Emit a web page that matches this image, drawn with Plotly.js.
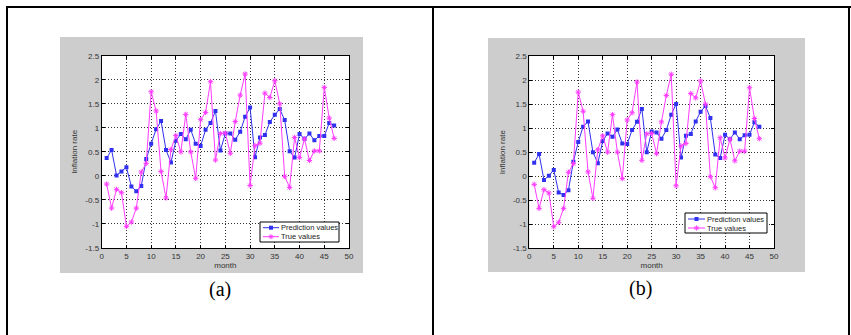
<!DOCTYPE html>
<html>
<head>
<meta charset="utf-8">
<script src="https://cdn.plot.ly/plotly-3.0.1.min.js"></script>
<style>html,body{margin:0;padding:0;background:#fff;}#chart{width:851px;height:335px;}</style>
</head>
<body>
<div id="chart"></div>
<script>
const months = [1,2,3,4,5,6,7,8,9,10,11,12,13,14,15,16,17,18,19,20,21,22,23,24,25,26,27,28,29,30,31,32,33,34,35,36,37,38,39,40,41,42,43,44,45,46,47];
const predictionA = [0.37,0.54,0.01,0.09,0.18,-0.22,-0.32,-0.21,0.35,0.67,0.97,1.14,0.54,0.28,0.73,0.87,0.76,0.96,0.67,0.62,0.96,1.10,1.35,0.53,0.88,0.88,0.75,0.92,1.23,1.42,0.39,0.80,0.85,1.12,1.27,1.39,1.16,0.51,0.38,0.87,0.77,0.88,0.74,0.83,0.83,1.10,1.05];
const predictionB = [0.28,0.46,-0.08,0.01,0.13,-0.34,-0.39,-0.29,0.30,0.71,1.03,1.14,0.50,0.27,0.73,0.89,0.82,0.97,0.68,0.67,0.96,1.13,1.40,0.50,0.93,0.91,0.78,0.96,1.28,1.50,0.39,0.84,0.88,1.14,1.34,1.46,1.21,0.45,0.38,0.86,0.77,0.91,0.77,0.85,0.86,1.12,1.03];
const trueValues = [-0.17,-0.67,-0.28,-0.35,-1.05,-0.96,-0.67,0.08,0.26,1.75,1.35,0.09,-0.46,0.55,0.84,0.50,1.28,0.50,-0.05,1.17,1.32,1.96,0.33,0.88,0.89,0.47,1.13,1.68,2.12,-0.20,0.63,0.68,1.72,1.63,1.98,1.50,-0.01,-0.24,0.80,0.38,0.77,0.32,0.52,0.52,1.84,1.20,0.78];
const xTickVals = [0,5,10,15,20,25,30,35,40,45,50];
const yTickVals = [-1.5,-1,-0.5,0,0.5,1,1.5,2,2.5];
const yTickText = ['-1.5','-1','-0.5','0','0.5','1','1.5','2','2.5'];
const seriesNames = ['Prediction values','True values'];
const panelLabels = ['(a)','(b)'];

const W = 851, H = 335;
const px = v => v / W;
const py = v => 1 - v / H;

const tickFont = {family: 'Liberation Sans, Arial, sans-serif', size: 8, color: '#333'};
function xAxis(d0, d1, anchor) {
  return {
    domain: [px(d0), px(d1)], anchor: anchor, range: [0, 50],
    tickvals: xTickVals, ticks: 'inside', ticklen: 3, tickcolor: '#000',
    showline: true, linecolor: '#000', linewidth: 1, mirror: 'allticks',
    showgrid: true, gridcolor: '#333', gridwidth: 1, griddash: '1px,2px',
    zeroline: false, tickfont: tickFont, fixedrange: true,
    title: {text: 'month', font: tickFont, standoff: 1}
  };
}
function yAxis(d0, d1, anchor) {
  return {
    domain: [py(d1), py(d0)], anchor: anchor, range: [-1.5, 2.5],
    tickvals: yTickVals, ticktext: yTickText, ticks: 'inside', ticklen: 3, tickcolor: '#000',
    showline: true, linecolor: '#000', linewidth: 1, mirror: 'allticks',
    showgrid: true, gridcolor: '#333', gridwidth: 1, griddash: '1px,2px',
    zeroline: false, tickfont: tickFont, fixedrange: true,
    title: {text: 'Inflation rate', font: tickFont, standoff: 6}
  };
}

const blue = '#3030f0', magenta = '#ff3cff';
function predTrace(y, xa, ya) {
  return {x: months, y: y, xaxis: xa, yaxis: ya, name: seriesNames[0], mode: 'lines+markers', showlegend: false,
    line: {color: blue, width: 1}, marker: {symbol: 'square', size: 4, color: blue}};
}
function trueTrace(y, xa, ya) {
  return {x: months, y: y, xaxis: xa, yaxis: ya, name: seriesNames[1], mode: 'lines+markers', showlegend: false,
    line: {color: magenta, width: 1}, marker: {symbol: 'asterisk-open', size: 4.5, color: magenta, line: {color: magenta, width: 1}}};
}

const data = [
  predTrace(predictionA, 'x', 'y'),
  trueTrace(trueValues, 'x', 'y'),
  predTrace(predictionB, 'x2', 'y2'),
  trueTrace(trueValues, 'x2', 'y2')
];

const rect = (x0, y0, x1, y1, color, layer, border) => ({type: 'rect', xref: 'paper', yref: 'paper', layer: layer || 'below',
  x0: px(x0), x1: px(x1), y0: py(y1), y1: py(y0), fillcolor: color, line: border ? {color: '#000', width: 1} : {width: 0}});
const seg = (x0, y0, x1, y1, color, width) => ({type: 'line', xref: 'paper', yref: 'paper', layer: 'above',
  x0: px(x0), x1: px(x1), y0: py(y0), y1: py(y1), line: {color: color, width: width}});

// compact MATLAB-style legend box built from shapes + text
function legendParts(bx0, by0, bx1, by1, lx0, lx1, r1, r2, tx) {
  const cx = (lx0 + lx1) / 2;
  const shapes = [
    rect(bx0, by0, bx1, by1, '#fff', 'above', true),
    seg(lx0, r1, lx1, r1, blue, 1),
    rect(cx - 2, r1 - 2, cx + 2, r1 + 2, blue, 'above', false),
    seg(lx0, r2, lx1, r2, magenta, 1),
    seg(cx - 2.5, r2, cx + 2.5, r2, magenta, 1),
    seg(cx, r2 - 2.5, cx, r2 + 2.5, magenta, 1),
    seg(cx - 1.8, r2 - 1.8, cx + 1.8, r2 + 1.8, magenta, 1),
    seg(cx - 1.8, r2 + 1.8, cx + 1.8, r2 - 1.8, magenta, 1)
  ];
  const lf = {family: 'Liberation Sans, Arial, sans-serif', size: 7.5, color: '#222'};
  const anns = [
    {text: seriesNames[0], xref: 'paper', yref: 'paper', x: px(tx), y: py(r1), xanchor: 'left', yanchor: 'middle', showarrow: false, font: lf},
    {text: seriesNames[1], xref: 'paper', yref: 'paper', x: px(tx), y: py(r2), xanchor: 'left', yanchor: 'middle', showarrow: false, font: lf}
  ];
  return {shapes, anns};
}
const legA = legendParts(260, 222, 339, 242, 263, 279, 227.7, 236.7, 279);
const legB = legendParts(685, 213, 767, 233, 688, 705, 219, 228, 705);

const layout = {
  width: W, height: H, autosize: false, margin: {l: 0, r: 0, t: 0, b: 0, pad: 0},
  paper_bgcolor: '#fff', plot_bgcolor: '#fff', showlegend: false,
  xaxis: xAxis(101.7, 349, 'y'), yaxis: yAxis(55.7, 248, 'x'),
  xaxis2: xAxis(529.3, 774, 'y2'), yaxis2: yAxis(56, 248.3, 'x2'),
  shapes: [
    rect(60, 37, 363, 273, '#cdcdcd'),
    rect(488, 38, 805, 272, '#cdcdcd'),
    rect(101.7, 55.7, 349, 248, '#fff'),
    rect(529.3, 56, 774, 248.3, '#fff'),
    seg(6, 7, 851, 7, '#000', 2),
    seg(7, 6, 7, 335, '#000', 2),
    seg(433, 7, 433, 335, '#000', 2),
    seg(849, 7, 849, 335, '#000', 2)
  ].concat(legA.shapes, legB.shapes),
  annotations: [
    {text: panelLabels[0], xref: 'paper', yref: 'paper', x: px(220), y: py(289), xanchor: 'center', yanchor: 'middle', showarrow: false,
     font: {family: 'Liberation Serif, Times New Roman, serif', size: 20, color: '#000'}},
    {text: panelLabels[1], xref: 'paper', yref: 'paper', x: px(640), y: py(288), xanchor: 'center', yanchor: 'middle', showarrow: false,
     font: {family: 'Liberation Serif, Times New Roman, serif', size: 20, color: '#000'}}
  ].concat(legA.anns, legB.anns)
};

Plotly.newPlot('chart', data, layout, {staticPlot: true, displayModeBar: false});
</script>
</body>
</html>
